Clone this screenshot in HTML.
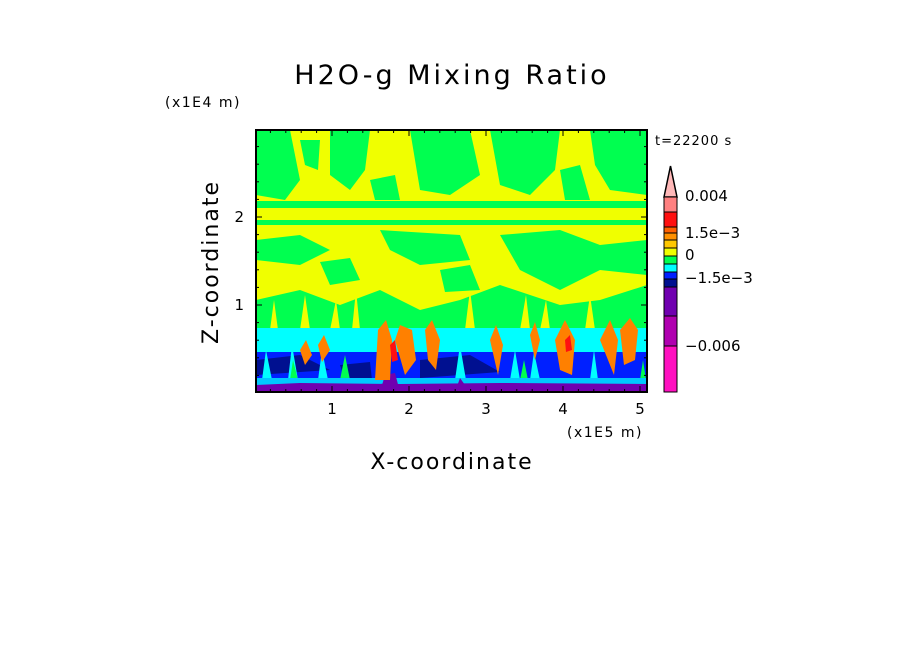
<!DOCTYPE html>
<html><head><meta charset="utf-8"><style>
body{margin:0;background:#fff;}
svg text{font-family:"DejaVu Sans","Liberation Sans",sans-serif;fill:#000;}
</style></head><body>
<svg width="904" height="654" viewBox="0 0 904 654">
<text x="452" y="84" font-size="27" letter-spacing="3" text-anchor="middle">H2O-g Mixing Ratio</text>
<text x="165" y="107" font-size="14" letter-spacing="1.5">(x1E4 m)</text>
<text x="567" y="437" font-size="14" letter-spacing="1.5">(x1E5 m)</text>
<text x="655" y="145" font-size="13" letter-spacing="1">t=22200 s</text>
<text x="452" y="469" font-size="22" letter-spacing="2" text-anchor="middle">X-coordinate</text>
<text transform="translate(218,262) rotate(-90)" font-size="22" letter-spacing="2" text-anchor="middle">Z-coordinate</text>
<g id="field">
<rect x="256" y="130" width="391" height="262" fill="#f0ff00"/>
<path d="M256,130 L290,130 L300,180 L285,200 L256,195Z M330,130 L370,130 L365,170 L350,190 L330,175Z M410,130 L470,130 L480,175 L450,195 L420,190Z M490,130 L560,130 L555,170 L530,195 L500,185Z M590,130 L647,130 L647,195 L610,190 L595,165Z M300,140 L320,140 L318,170 L305,165Z M370,180 L395,175 L400,200 L375,200Z M560,170 L580,165 L590,200 L565,200Z" fill="#00ff50"/>
<rect x="256" y="201" width="391" height="7" fill="#00ff50"/>
<rect x="256" y="220" width="391" height="5" fill="#00ff50"/>
<path d="M256,240 L300,235 L330,250 L300,265 L256,260Z M380,230 L460,235 L470,260 L420,265 L390,250Z M500,235 L560,230 L600,245 L647,240 L647,275 L600,270 L560,290 L520,270Z M320,262 L350,258 L360,280 L330,285Z M440,270 L470,265 L480,290 L445,292Z" fill="#00ff50"/>
<path d="M256,300 L300,290 L340,305 L380,290 L420,310 L460,300 L500,285 L560,305 L600,300 L647,285 L647,330 L256,330Z" fill="#00ff50"/>
<path d="M270,330 L274,300 L278,330Z M300,330 L305,295 L310,330Z M330,330 L336,300 L340,330Z M352,330 L356,290 L360,330Z M465,330 L470,290 L475,330Z M520,330 L526,295 L530,330Z M540,330 L546,300 L550,330Z M585,330 L590,295 L595,330Z" fill="#f0ff00"/>
<rect x="256" y="328" width="391" height="26" fill="#00ffff"/>
<rect x="256" y="352" width="391" height="28" fill="#0020ff"/>
<path d="M256,360 L300,355 L330,370 L256,375Z M420,360 L470,355 L500,372 L420,378Z M340,365 L370,362 L372,380 L345,380Z" fill="#001090"/>
<path d="M262,380 L266,350 L272,380Z M288,380 L292,345 L298,380Z M318,380 L322,350 L328,380Z M455,380 L460,345 L466,380Z M510,380 L515,350 L520,380Z M530,380 L534,352 L540,380Z M590,380 L594,350 L598,380Z" fill="#00ffff"/>
<path d="M290,380 L293,360 L298,380Z M340,380 L345,355 L350,380Z M520,380 L524,360 L528,380Z M640,380 L643,360 L646,380Z" fill="#00ff50"/>
<rect x="256" y="378" width="391" height="14" fill="#00c8ff"/>
<path d="M256,385 L300,383 L400,384 L500,383 L647,384 L647,392 L256,392Z" fill="#7000b0"/>
<path d="M380,392 L385,375 L395,373 L400,392Z M455,392 L460,378 L470,392Z" fill="#7000b0"/>
<path d="M375,380 L378,330 L386,320 L392,340 L390,380Z M395,340 L400,325 L412,330 L416,360 L405,375Z M425,330 L432,320 L440,340 L436,370 L428,360Z M490,340 L496,325 L503,345 L498,375Z M555,340 L565,320 L575,340 L572,375 L560,370Z M600,340 L610,320 L618,340 L614,375Z M620,330 L630,318 L638,330 L635,360 L624,365Z M300,350 L306,340 L312,355 L305,365Z M318,345 L324,335 L330,350 L322,362Z M530,335 L535,322 L540,340 L535,360Z" fill="#ff8000"/>
<path d="M390,345 L395,340 L398,360 L392,362Z M565,340 L570,335 L572,350 L566,352Z" fill="#ff1010"/>
<rect x="256" y="130" width="391" height="262" fill="none" stroke="#000" stroke-width="2"/>
</g>
<g id="xticks"></g>
<g id="yticks"></g>
<g id="cbar"></g>
</svg>
<script>
const xTicks=[1,2,3,4,5];
const yTicks=[1,2];
const cbColors=["#ff8080","#ff1010","#ff6000","#ff9000","#ffc800","#f0ff00","#00ff50","#00ffff","#0020ff","#001090","#7000b0","#b000b0","#ff10c0"];
const cbBounds=[197,212,227,233,240,248,256,264,272,279,287,316,346,392];
const cbLabels=["0.004","1.5e-3","0","-1.5e-3","-0.006"];
const cbLabelY=[201,238,260,283,351];
const ns="http://www.w3.org/2000/svg";
function X(v){return 255+77*v;}
function Y(v){return 393-88*v;}
function mk(t,a,p){const e=document.createElementNS(ns,t);for(const k in a)e.setAttribute(k,a[k]);p.appendChild(e);return e;}
const xg=document.getElementById('xticks'),yg=document.getElementById('yticks'),cg=document.getElementById('cbar');
for(let v=0.2;v<5.1;v+=0.2){const x=X(v);const big=Math.abs(v-Math.round(v))<0.01;
 mk('line',{x1:x,x2:x,y1:130,y2:130+(big?6:3),stroke:'#000'},xg);mk('line',{x1:x,x2:x,y1:392,y2:392-(big?6:3),stroke:'#000'},xg);}
xTicks.forEach(v=>{const t=mk('text',{x:X(v),y:414,'font-size':15,'text-anchor':'middle'},xg);t.textContent=v;
 
 });
for(let v=0.2;v<3;v+=0.2){const y=Y(v);const big=Math.abs(v-Math.round(v))<0.01;
 mk('line',{x1:256,x2:256+(big?6:3),y1:y,y2:y,stroke:'#000'},yg);mk('line',{x1:647,x2:647-(big?6:3),y1:y,y2:y,stroke:'#000'},yg);}
yTicks.forEach(v=>{const t=mk('text',{x:244,y:Y(v)+5,'font-size':15,'text-anchor':'end'},yg);t.textContent=v;
 
 });
const tri=mk('path',{d:'M664,197 L670.5,166 L677,197Z',fill:'#ffb8b8',stroke:'#000','stroke-width':1.5},cg);


cbColors.forEach((c,i)=>{const r=mk('rect',{x:664,y:cbBounds[i],width:13,height:cbBounds[i+1]-cbBounds[i],fill:c,stroke:'#000','stroke-width':1},cg);
 
 });
cbLabels.forEach((l,i)=>{const t=mk('text',{x:685,y:cbLabelY[i],'font-size':15},cg);t.textContent=l.replace(/-/g,'\u2212');
 
 });
</script>
</body></html>
